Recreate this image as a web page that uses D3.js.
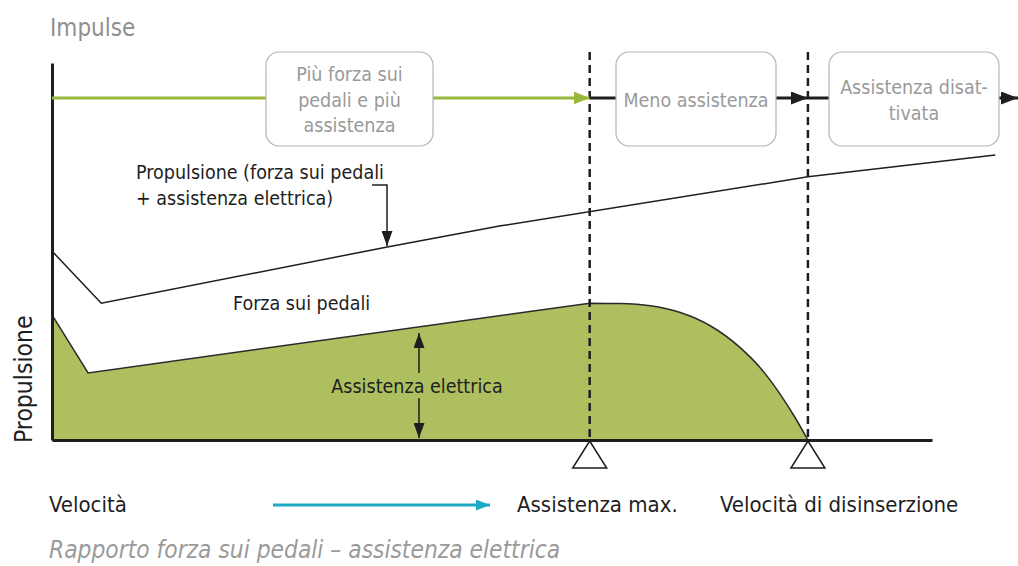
<!DOCTYPE html>
<html>
<head>
<meta charset="utf-8">
<script src="https://cdn.jsdelivr.net/npm/d3@7"></script>
<style>
  body { margin: 0; background: #fff; }
  text { font-family: "DejaVu Sans Condensed", "Liberation Sans Narrow", "Liberation Sans", sans-serif; }
</style>
</head>
<body>
<script>
// speed (0-100) vs propulsion (0-100)
var pedalSpeed = [0, 4.1, 61.1, 64.5, 68.0, 71.4, 74.8, 78.2, 80.5, 82.7, 84.4, 85.9];
var pedalForce = [33.2, 17.8, 36.3, 36.2, 35.6, 33.8, 30.3, 24.5, 19.1, 12.3, 6.1, 0];
var propSpeed = [0, 5.6, 38.1, 51.0, 85.9, 107.2];
var propForce = [50.1, 36.3, 51.2, 56.8, 69.8, 75.6];
var markerSpeed = [61.1, 85.9];
var markerLabels = ["Assistenza max.", "Velocità di disinserzione"];
var phaseLabels = [["Più forza sui", "pedali e più", "assistenza"], ["Meno assistenza"], ["Assistenza disat-", "tivata"]];

var width = 1018, height = 566;

var x = d3.scaleLinear().domain([0, 100]).range([52, 932]);
var y = d3.scaleLinear().domain([0, 100]).range([440, 63]);

var svg = d3.select("body").append("svg")
    .attr("width", width)
    .attr("height", height);

var defs = svg.append("defs");
function arrowHead(id, color, len, wid) {
  defs.append("marker")
      .attr("id", id)
      .attr("viewBox", "0 0 " + len + " " + wid)
      .attr("refX", len)
      .attr("refY", wid / 2)
      .attr("markerUnits", "userSpaceOnUse")
      .attr("markerWidth", len)
      .attr("markerHeight", wid)
      .attr("orient", "auto")
    .append("path")
      .attr("d", "M0,0L" + len + "," + (wid / 2) + "L0," + wid + "Z")
      .style("fill", color);
}
arrowHead("greenHead", "#9ab83b", 16, 13);
arrowHead("blackHead", "#1e1e1e", 17, 13);
arrowHead("smallHead", "#1e1e1e", 15, 11);
arrowHead("blueHead", "#1ba9c6", 14, 11);

var pedals = pedalSpeed.map(function(d, i) { return {v: d, f: pedalForce[i]}; });
var prop = propSpeed.map(function(d, i) { return {v: d, f: propForce[i]}; });

// green area: straight part, then rounded fall-off after max assistance
var head = pedals.slice(0, 3), tail = pedals.slice(2);
var lineLin = d3.line().x(function(d) { return x(d.v); }).y(function(d) { return y(d.f); });
var lineCurve = d3.line().curve(d3.curveMonotoneX).x(function(d) { return x(d.v); }).y(function(d) { return y(d.f); });
var edge = lineLin(head) + "L" + lineCurve(tail).slice(1);

svg.append("path")
    .attr("d", "M" + x(0) + "," + y(0) + "L" + edge.slice(1) + "Z")
    .style("fill", "#aebf60")
    .style("stroke", "none");
svg.append("path")
    .attr("d", edge)
    .style("fill", "none")
    .style("stroke", "#2a2a2a")
    .style("stroke-width", 1.5);

// total propulsion line
svg.append("path")
    .attr("d", lineLin(prop))
    .style("fill", "none")
    .style("stroke", "#1e1e1e")
    .style("stroke-width", 1.5);

// dashed verticals
svg.selectAll(".vline")
    .data(markerSpeed)
  .enter().append("line")
    .attr("class", "vline")
    .attr("x1", function(d) { return x(d); })
    .attr("x2", function(d) { return x(d); })
    .attr("y1", 52)
    .attr("y2", y(0))
    .style("stroke", "#1e1e1e")
    .style("stroke-width", 2.5)
    .style("stroke-dasharray", "8,5");

// axes
var xAxis = d3.axisBottom(x).tickValues([]).tickSizeOuter(0);
var yAxis = d3.axisLeft(y).tickValues([]).tickSizeOuter(0);
svg.append("g")
    .attr("transform", "translate(0," + y(0) + ")")
    .call(xAxis)
    .select(".domain").style("stroke", "#1e1e1e").style("stroke-width", 3);
svg.append("g")
    .attr("transform", "translate(" + x(0) + ",0)")
    .call(yAxis)
    .select(".domain").style("stroke", "#1e1e1e").style("stroke-width", 3);

// triangles under markers
svg.selectAll(".tri")
    .data(markerSpeed)
  .enter().append("path")
    .attr("class", "tri")
    .attr("d", function(d) {
      var cx = x(d), top = y(0) + 1;
      return "M" + cx + "," + top + "L" + (cx + 17) + "," + (top + 27) + "L" + (cx - 17) + "," + (top + 27) + "Z";
    })
    .style("fill", "#fff")
    .style("stroke", "#1e1e1e")
    .style("stroke-width", 1.5);

// flow line on top with phase boxes
var flowY = 98;
svg.append("line")
    .attr("x1", x(0)).attr("x2", x(markerSpeed[0]))
    .attr("y1", flowY).attr("y2", flowY)
    .style("stroke", "#9ab83b").style("stroke-width", 3)
    .attr("marker-end", "url(#greenHead)");
svg.append("line")
    .attr("x1", x(markerSpeed[0])).attr("x2", x(markerSpeed[1]))
    .attr("y1", flowY).attr("y2", flowY)
    .style("stroke", "#1e1e1e").style("stroke-width", 3)
    .attr("marker-end", "url(#blackHead)");
svg.append("line")
    .attr("x1", x(markerSpeed[1])).attr("x2", width)
    .attr("y1", flowY).attr("y2", flowY)
    .style("stroke", "#1e1e1e").style("stroke-width", 3)
    .attr("marker-end", "url(#blackHead)");

var boxes = [{x0: 266, x1: 433}, {x0: 616, x1: 776}, {x0: 829, x1: 999}];
boxes.forEach(function(b, i) {
  svg.append("rect")
      .attr("x", b.x0).attr("y", 52)
      .attr("width", b.x1 - b.x0).attr("height", 94)
      .attr("rx", 13).attr("ry", 13)
      .style("fill", "#fff")
      .style("stroke", "#b5b5b5")
      .style("stroke-width", 1.2);
  var lines = phaseLabels[i];
  var cx = (b.x0 + b.x1) / 2;
  var t = svg.append("text")
      .attr("y", 100 - (lines.length - 1) * 12.75)
      .style("text-anchor", "middle")
      .style("font-size", "19.5px")
      .style("fill", "#9a9a9a");
  lines.forEach(function(l, j) {
    t.append("tspan").attr("x", cx).attr("dy", j === 0 ? "0.35em" : "25.5px").text(l);
  });
});

// annotations
svg.append("text")
    .attr("x", 50).attr("y", 36)
    .style("font-size", "24px").style("fill", "#8f8f8f")
    .text("Impulse");

var ann = svg.append("text")
    .attr("x", 136).attr("y", 179)
    .style("font-size", "19.5px").style("fill", "#1e1e1e");
ann.append("tspan").attr("x", 136).text("Propulsione (forza sui pedali");
ann.append("tspan").attr("x", 136).attr("dy", 25.5).text("+ assistenza elettrica)");

svg.append("path")
    .attr("d", "M372,185H387V" + (y(51.2) - 1))
    .style("fill", "none")
    .style("stroke", "#1e1e1e")
    .style("stroke-width", 1.5)
    .attr("marker-end", "url(#smallHead)");

svg.append("text")
    .attr("x", 233).attr("y", 310)
    .style("font-size", "19.5px").style("fill", "#1e1e1e")
    .text("Forza sui pedali");

svg.append("text")
    .attr("x", 417).attr("y", 393)
    .style("text-anchor", "middle")
    .style("font-size", "19.5px").style("fill", "#1e1e1e")
    .text("Assistenza elettrica");

svg.append("line")
    .attr("x1", 419).attr("x2", 419).attr("y1", 373).attr("y2", 333)
    .style("stroke", "#1e1e1e").style("stroke-width", 1.5)
    .attr("marker-end", "url(#smallHead)");
svg.append("line")
    .attr("x1", 419).attr("x2", 419).attr("y1", 398).attr("y2", 438)
    .style("stroke", "#1e1e1e").style("stroke-width", 1.5)
    .attr("marker-end", "url(#smallHead)");

svg.append("text")
    .attr("transform", "translate(32,443) rotate(-90)")
    .style("font-size", "24.5px").style("fill", "#1e1e1e")
    .text("Propulsione");

svg.append("text")
    .attr("x", 49).attr("y", 512)
    .style("font-size", "22px").style("fill", "#1e1e1e")
    .text("Velocità");

svg.append("line")
    .attr("x1", 273).attr("x2", 490).attr("y1", 505).attr("y2", 505)
    .style("stroke", "#1ba9c6").style("stroke-width", 3)
    .attr("marker-end", "url(#blueHead)");

svg.selectAll(".mlabel")
    .data(markerLabels)
  .enter().append("text")
    .attr("class", "mlabel")
    .attr("x", function(d, i) { return i === 0 ? 517 : 720; })
    .attr("y", 512)
    .style("font-size", "22px").style("fill", "#1e1e1e")
    .text(function(d) { return d; });

svg.append("text")
    .attr("x", 49).attr("y", 558)
    .style("font-size", "24.3px").style("font-style", "italic").style("fill", "#9a9a9a")
    .text("Rapporto forza sui pedali – assistenza elettrica");
</script>
</body>
</html>
